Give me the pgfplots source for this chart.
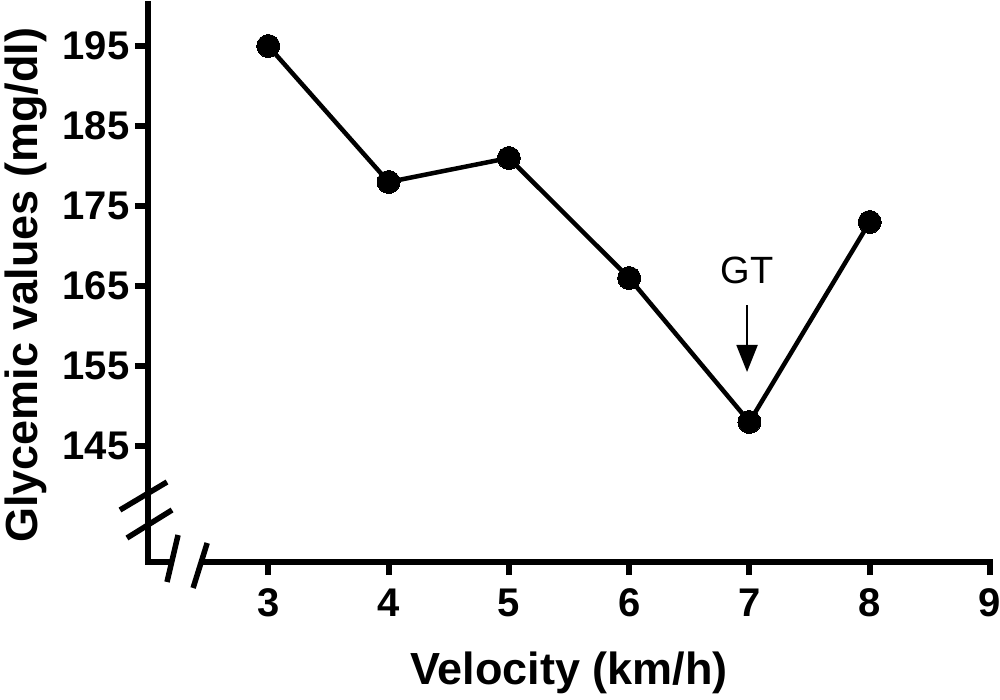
\documentclass[border=0pt]{standalone}
\usepackage{fontspec}
\setmainfont{Liberation Sans}
\usepackage{pgfplots}
\pgfplotsset{compat=1.18}
\usetikzlibrary{arrows.meta}
\begin{document}
\begin{tikzpicture}
\useasboundingbox (-148bp,-138bp) rectangle (852bp,562bp);
\begin{axis}[
  at={(0,0)}, anchor=south west,
  scale only axis, width=842bp, height=558bp,
  xmin=2, xmax=9, ymin=130.5, ymax=200.25,
  axis x line*=bottom, axis y line*=left,
  xtick={3,4,5,6,7,8,9}, ytick={145,155,165,175,185,195},
  tick align=outside, major tick length=13bp,
  tick style={line width=6bp, black},
  axis line style={line width=6bp, black, line cap=rect},
  ticklabel style={font=\fontsize{40bp}{44bp}\selectfont\bfseries},
  xticklabel style={yshift=-10bp},
  yticklabel style={xshift=-2bp},
  /pgf/number format/assume math mode=true,
  xlabel={Velocity (km/h)}, ylabel={Glycemic values (mg/dl)},
  label style={font=\fontsize{45bp}{50bp}\selectfont\bfseries},
  xlabel style={at={(axis description cs:0.5,-0.2204)}, anchor=base},
  ylabel style={at={(axis description cs:-0.1318,0.496)}, anchor=base},
  clip=false,
]
\addplot[black, line width=4.5bp, mark=*, mark size=11.5bp, mark options={fill=black, line width=0pt}]
  coordinates {(3,195) (4,178) (5,181) (6,166) (7,148) (8,173)};
\coordinate (g1) at (axis cs:2.183,129.2);
\coordinate (g2) at (axis cs:2.45,131.8);
\coordinate (ya1) at (axis cs:1.767,137.0);
\coordinate (ya2) at (axis cs:2.158,140.5);
\coordinate (yb1) at (axis cs:1.825,133.5);
\coordinate (yb2) at (axis cs:2.2,137.0);
\coordinate (xa1) at (axis cs:2.25,133.875);
\coordinate (xa2) at (axis cs:2.158,128);
\coordinate (xb1) at (axis cs:2.492,132.875);
\coordinate (xb2) at (axis cs:2.375,127.25);
\coordinate (ar1) at (axis cs:6.98,162.6);
\coordinate (ar2) at (axis cs:6.98,154.25);
\coordinate (gt) at (axis cs:6.98,167);
\end{axis}
\fill[white] (g1) rectangle (g2);
\draw[line width=5.5bp] (ya1) -- (ya2);
\draw[line width=5.5bp] (yb1) -- (yb2);
\draw[line width=5.5bp] (xa1) -- (xa2);
\draw[line width=5.5bp] (xb1) -- (xb2);
\draw[line width=2bp, -{Triangle[width=21bp,length=27bp]}] (ar1) -- (ar2);
\node[font=\fontsize{38bp}{42bp}\selectfont] at (gt) {GT};
\end{tikzpicture}
\end{document}
